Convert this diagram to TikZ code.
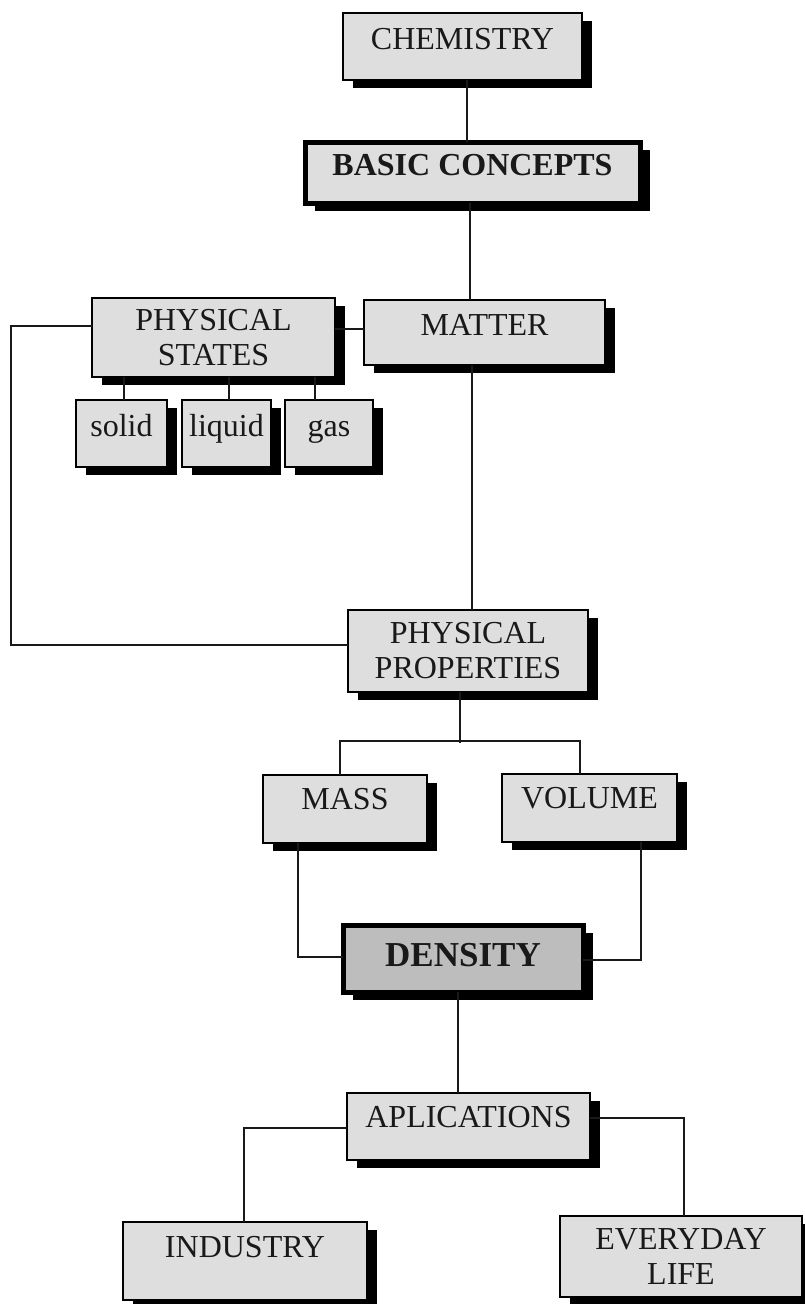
\documentclass[tikz,border=0pt]{standalone}
\usepackage{fontspec}
\setmainfont{Liberation Serif}
\usetikzlibrary{shadows}
\begin{document}
\begin{tikzpicture}[x=1pt,y=-1pt,
  box/.style={draw=black, line width=2.4pt, fill=black!13, text=black!90,
    inner sep=0pt, outer sep=0pt, align=center,
    font=\fontsize{32}{35}\selectfont,
    drop shadow={shadow xshift=10pt, shadow yshift=-8pt, fill=black, opacity=1}},
  one/.style={text height=21pt, text depth=16pt},
  boldbox/.style={box, one, line width=5pt, font=\fontsize{32}{35}\bfseries\selectfont},
  denbox/.style={box, line width=5pt, fill=black!26, text height=23pt, text depth=7pt,
    font=\fontsize{35}{38}\bfseries\selectfont},
  conn/.style={draw=black!90, line width=2.2pt}]
\useasboundingbox (0,0) rectangle (805,1304);
\fill[white] (0,0) rectangle (805,1304);

\node[box, one, minimum width=239pt, minimum height=67pt] (chem) at (462.5,46.5) {CHEMISTRY};
\node[boldbox, minimum width=335pt, minimum height=61pt] (basic) at (472.5,172.5) {BASIC CONCEPTS};
\node[box, minimum width=243pt, minimum height=79pt] (physstates) at (213.5,337.5) {PHYSICAL\\STATES};
\node[box, one, minimum width=241pt, minimum height=65pt] (matter) at (484.5,332.5) {MATTER};
\node[box, one, minimum width=91pt, minimum height=67pt] (solid) at (121.5,433.5) {solid};
\node[box, one, minimum width=89pt, minimum height=67pt] (liquid) at (226.5,433.5) {liquid};
\node[box, one, minimum width=88pt, minimum height=67pt] (gas) at (329,433.5) {gas};
\node[box, minimum width=240pt, minimum height=82pt] (physprop) at (468,651) {PHYSICAL\\PROPERTIES};
\node[box, text height=21pt, text depth=21pt, minimum width=164pt, minimum height=68pt] (mass) at (345,809) {MASS};
\node[box, text height=21pt, text depth=21pt, minimum width=175pt, minimum height=68pt] (volume) at (589.5,808) {VOLUME};
\node[denbox, minimum width=240pt, minimum height=67pt] (density) at (463,958.5) {DENSITY};
\node[box, text height=21pt, text depth=20pt, minimum width=243pt, minimum height=67pt] (aplic) at (468.5,1126.5) {APLICATIONS};
\node[box, text height=21pt, text depth=28pt, minimum width=244pt, minimum height=78pt] (industry) at (245,1261) {INDUSTRY};
\node[box, minimum width=242pt, minimum height=81pt] (everyday) at (681,1256.5) {EVERYDAY\\LIFE};

\draw[conn] ([xshift=4.5pt]chem.south) -- ([xshift=-5.5pt]basic.north);
\draw[conn] ([xshift=-2.5pt]basic.south) -- ([xshift=-14.5pt]matter.north);
\draw[conn] ([yshift=8.5pt]physstates.east) -- ([yshift=3.5pt]matter.west);
\draw[conn] ([xshift=-89.5pt]physstates.south) -- ([xshift=2.5pt]solid.north);
\draw[conn] ([xshift=15.5pt]physstates.south) -- ([xshift=2.5pt]liquid.north);
\draw[conn] ([xshift=101.5pt]physstates.south) -- ([xshift=-14pt]gas.north);
\draw[conn] ([xshift=-12.5pt]matter.south) -- ([xshift=4pt]physprop.north);
\draw[conn] ([yshift=11.5pt]physstates.west) -- ++(-81,0) |- ([yshift=6pt]physprop.west);
\draw[conn] ([xshift=-8pt]physprop.south) -- ++(0,51);
\draw[conn] ([xshift=-5pt]mass.north) -- ++(0,-34) -| ([xshift=-9.5pt]volume.north);
\draw[conn] ([xshift=-47pt]mass.south) |- ([yshift=1.5pt]density.west);
\draw[conn] ([xshift=51.5pt]volume.south) |- ([yshift=-1.5pt]density.east);
\draw[conn] ([xshift=-5pt]density.south) -- ([xshift=-10.5pt]aplic.north);
\draw[conn] ([yshift=-1.5pt]aplic.west) -| ([xshift=-1pt]industry.north);
\draw[conn] ([yshift=8.5pt]aplic.east) -| ([xshift=3pt]everyday.north);
\end{tikzpicture}
\end{document}
